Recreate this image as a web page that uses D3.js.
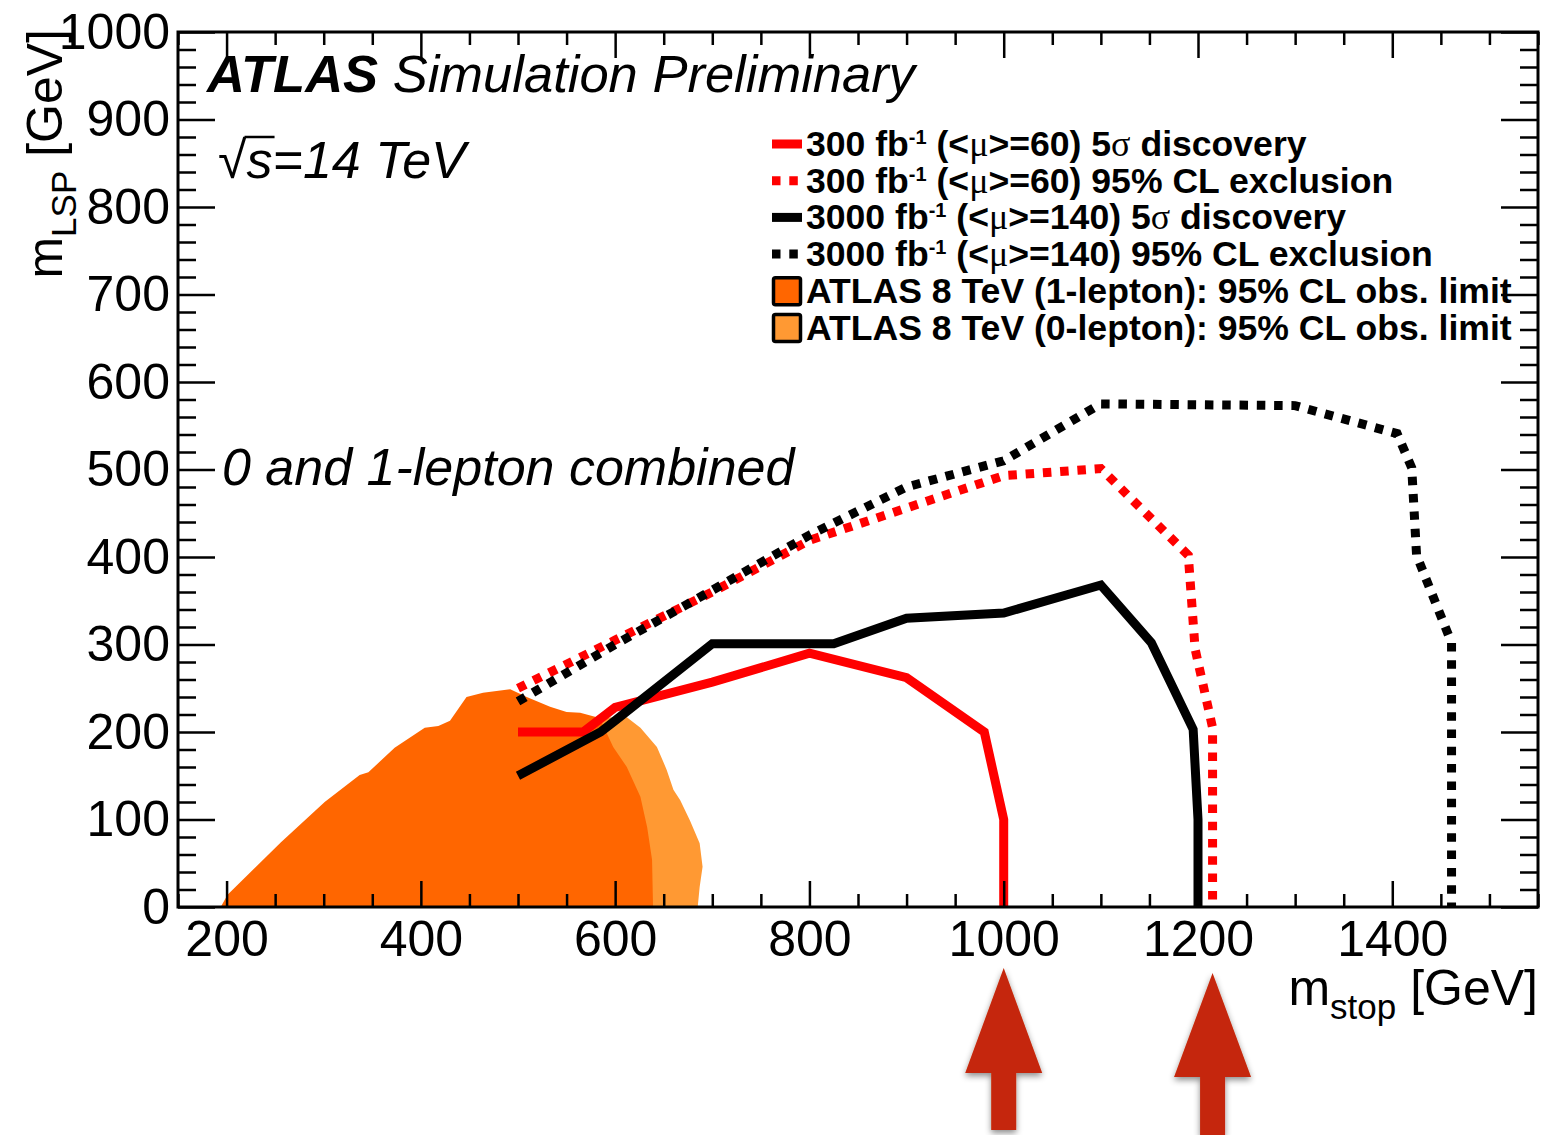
<!DOCTYPE html>
<html>
<head>
<meta charset="utf-8">
<script src="https://cdn.jsdelivr.net/npm/d3@7"></script>
<style>
  html, body { margin: 0; padding: 0; background: #fff; }
  svg { display: block; }
  text { font-family: "Liberation Sans", Arial, Helvetica, sans-serif; }
</style>
</head>
<body>
<svg id="chart" width="1545" height="1135"></svg>
<script>
// ---------- data ----------
const xMajorTicks = [200, 400, 600, 800, 1000, 1200, 1400];
const yMajorTicks = [0, 100, 200, 300, 400, 500, 600, 700, 800, 900, 1000];

// 14 TeV projections: [m_stop, m_LSP] in GeV
const disc300 = [[500,200],[567,200],[600,228],[700,257],[800,290],[900,262],[980,200],[1000,100],[1000,0]];
const excl300 = [[500,250],[600,305],[700,360],[800,419],[900,456],[1000,493],[1100,501],[1190,402],[1197,295],[1215,205],[1215,0]];
const disc3000 = [[500,150],[585,200],[600,213],[700,301],[825,301],[900,330],[1000,336],[1100,368],[1152,302],[1195,203],[1200,100],[1200,0]];
const excl3000 = [[500,235],[600,300],[700,362],[800,425],[900,480],[1000,510],[1100,575],[1200,574],[1300,573],[1405,541],[1420,502],[1425,402],[1461,302],[1461,0]];

// 8 TeV observed limits (contours)
const obs1lep = [[194,0],[201,14],[256,74],[301,120],[337,151],[346,154],[373,182],[404,205],[418,207],[430,213],[447,240],[464,245],[492,249],[509,240],[533,229],[550,223],[564,222],[584,216],[598,183],[612,160],[626,126],[633,91],[638,54],[639,0]];
const obs0lep = [[420,0],[480,150],[560,200],[584,216],[600,217],[612,217],[626,205],[643,183],[653,157],[660,134],[667,122],[677,99],[687,73],[690,46],[687,23],[685,0]];

const arrowMarks = [1000, 1215];

const legendEntries = [
  { kind: "line", color: "#ff0000", dashed: false, parts: [["300 fb"],["-1","sup"],[" (<"],["μ","greek"],[">=60) 5"],["σ","greek"],[" discovery"]] },
  { kind: "line", color: "#ff0000", dashed: true,  parts: [["300 fb"],["-1","sup"],[" (<"],["μ","greek"],[">=60) 95% CL exclusion"]] },
  { kind: "line", color: "#000000", dashed: false, parts: [["3000 fb"],["-1","sup"],[" (<"],["μ","greek"],[">=140) 5"],["σ","greek"],[" discovery"]] },
  { kind: "line", color: "#000000", dashed: true,  parts: [["3000 fb"],["-1","sup"],[" (<"],["μ","greek"],[">=140) 95% CL exclusion"]] },
  { kind: "box",  color: "#ff6600", parts: [["ATLAS 8 TeV (1-lepton): 95% CL obs. limit"]] },
  { kind: "box",  color: "#ff9933", parts: [["ATLAS 8 TeV (0-lepton): 95% CL obs. limit"]] }
];

// ---------- layout ----------
const svg = d3.select("#chart");
const pLeft = 178, pRight = 1538, pTop = 32, pBottom = 907;
const x = d3.scaleLinear().domain([150, 1550]).range([pLeft, pRight]);
const y = d3.scaleLinear().domain([0, 1000]).range([pBottom, pTop]);

const xMinor = d3.range(150, 1551, 50).filter(v => !xMajorTicks.includes(v));
const yMinor = d3.range(0, 1001, 20).filter(v => !yMajorTicks.includes(v));

const defs = svg.append("defs");
defs.append("clipPath").attr("id", "plotclip")
  .append("rect").attr("x", pLeft).attr("y", pTop).attr("width", pRight - pLeft).attr("height", pBottom - pTop);
const shadow = defs.append("filter").attr("id", "arrowshadow")
  .attr("x", "-30%").attr("y", "-30%").attr("width", "160%").attr("height", "160%");
shadow.append("feDropShadow").attr("dx", 0).attr("dy", 3).attr("stdDeviation", 3)
  .attr("flood-color", "#000").attr("flood-opacity", 0.45);

const plot = svg.append("g").attr("clip-path", "url(#plotclip)");

// filled 8 TeV regions
const area = d3.line().x(d => x(d[0])).y(d => y(d[1]));
plot.append("path").attr("d", area(obs0lep) + "Z").attr("fill", "#ff9933");
plot.append("path").attr("d", area(obs1lep) + "Z").attr("fill", "#ff6600");

// contour lines
const line = d3.line().x(d => x(d[0])).y(d => y(d[1]));
const DASH = "8.5,8.8", LW = 9;
const curves = [
  { data: excl300, color: "#ff0000", dashed: true },
  { data: disc300, color: "#ff0000", dashed: false },
  { data: excl3000, color: "#000000", dashed: true },
  { data: disc3000, color: "#000000", dashed: false }
];
curves.forEach(c => {
  plot.append("path").attr("d", line(c.data))
    .attr("fill", "none").attr("stroke", c.color).attr("stroke-width", LW)
    .attr("stroke-linejoin", "miter").attr("stroke-linecap", "butt")
    .attr("stroke-dasharray", c.dashed ? DASH : null);
});

// ---------- legend ----------
const legX = 772, legTextX = 806, legY0 = 144, legDy = 36.7;
const lg = svg.append("g");
legendEntries.forEach((e, i) => {
  const cy = legY0 + i * legDy;
  if (e.kind === "line") {
    lg.append("line").attr("x1", legX).attr("x2", legX + 30).attr("y1", cy).attr("y2", cy)
      .attr("stroke", e.color).attr("stroke-width", LW)
      .attr("stroke-dasharray", e.dashed ? DASH : null);
  } else {
    lg.append("rect").attr("x", legX + 1.5).attr("y", cy - 13).attr("width", 27).attr("height", 27)
      .attr("rx", 2).attr("fill", e.color).attr("stroke", "#000").attr("stroke-width", 3.5);
  }
  const t = lg.append("text").attr("x", legTextX).attr("y", cy + 12)
    .attr("font-size", 35.6).attr("font-weight", "bold").attr("fill", "#000");
  let shift = 0;
  e.parts.forEach(p => {
    const ts = t.append("tspan").text(p[0]);
    if (p[1] === "sup") {
      ts.attr("font-size", 20).attr("dy", -12); shift = 12;
    } else {
      if (shift) { ts.attr("dy", shift); shift = 0; }
      if (p[1] === "greek") ts.attr("font-family", "'Liberation Serif', 'DejaVu Serif', serif").attr("font-weight", "normal").attr("font-size", 36);
    }
  });
});

// ---------- axes ----------
const axisG = svg.append("g");
function tickAxis(gen, transform) {
  const g = axisG.append("g").attr("transform", transform).call(gen);
  g.select(".domain").remove();
  g.selectAll(".tick line").attr("stroke", "#000").attr("stroke-width", 2.5);
  return g;
}
const XMAJ = 26, XMIN = 13, YMAJ = 37, YMIN = 18;
// bottom
const gb = tickAxis(d3.axisBottom(x).tickValues(xMajorTicks).tickSize(-XMAJ).tickPadding(13).tickFormat(d3.format("d")), `translate(0,${pBottom})`);
gb.selectAll(".tick text").attr("font-size", 50).attr("fill", "#000").attr("font-family", "'Liberation Sans', Arial, sans-serif");
tickAxis(d3.axisBottom(x).tickValues(xMinor).tickSize(-XMIN).tickFormat(""), `translate(0,${pBottom})`);
// top
tickAxis(d3.axisTop(x).tickValues(xMajorTicks).tickSize(-XMAJ).tickFormat(""), `translate(0,${pTop})`);
tickAxis(d3.axisTop(x).tickValues(xMinor).tickSize(-XMIN).tickFormat(""), `translate(0,${pTop})`);
// left
const gl = tickAxis(d3.axisLeft(y).tickValues(yMajorTicks).tickSize(-YMAJ).tickPadding(8).tickFormat(d3.format("d")), `translate(${pLeft},0)`);
gl.selectAll(".tick text").attr("font-size", 50).attr("fill", "#000").attr("font-family", "'Liberation Sans', Arial, sans-serif");
tickAxis(d3.axisLeft(y).tickValues(yMinor).tickSize(-YMIN).tickFormat(""), `translate(${pLeft},0)`);
// right
tickAxis(d3.axisRight(y).tickValues(yMajorTicks).tickSize(-YMAJ).tickFormat(""), `translate(${pRight},0)`);
tickAxis(d3.axisRight(y).tickValues(yMinor).tickSize(-YMIN).tickFormat(""), `translate(${pRight},0)`);

// frame
svg.append("rect").attr("x", pLeft).attr("y", pTop).attr("width", pRight - pLeft).attr("height", pBottom - pTop)
  .attr("fill", "none").attr("stroke", "#000").attr("stroke-width", 3);

// axis titles
const xt = svg.append("text").attr("x", pRight).attr("y", 1005).attr("text-anchor", "end").attr("font-size", 50);
xt.append("tspan").text("m");
xt.append("tspan").text("stop").attr("font-size", 35).attr("dy", 14);
xt.append("tspan").text(" [GeV]").attr("dy", -14);

const yt = svg.append("text").attr("transform", `translate(62,${pTop - 3}) rotate(-90)`)
  .attr("text-anchor", "end").attr("font-size", 50);
yt.append("tspan").text("m");
yt.append("tspan").text("LSP").attr("font-size", 35).attr("dy", 14);
yt.append("tspan").text(" [GeV]").attr("dy", -14);

// labels inside the frame
const atl = svg.append("text").attr("x", 207).attr("y", 92).attr("font-size", 52.5).attr("font-style", "italic");
atl.append("tspan").text("ATLAS").attr("font-weight", "bold");
atl.append("tspan").text(" Simulation Preliminary");

const rs = svg.append("text").attr("x", 218).attr("y", 178).attr("font-size", 52).attr("font-style", "italic");
rs.append("tspan").text("√").attr("font-style", "normal");
rs.append("tspan").text("s=14 TeV");
{
  const node = rs.node();
  const b = node.getExtentOfChar(1);
  svg.append("line").attr("x1", b.x - 2).attr("x2", b.x + b.width + 2)
    .attr("y1", b.y + 6).attr("y2", b.y + 6).attr("stroke", "#000").attr("stroke-width", 2.5);
}

svg.append("text").attr("x", 222).attr("y", 485).attr("font-size", 52).attr("font-style", "italic")
  .text("0 and 1-lepton combined");

// ---------- arrows below the axis ----------
const arrowSpec = [
  { tip: 968, base: 1073, end: 1130 },
  { tip: 973, base: 1077, end: 1135 }
];
arrowMarks.forEach((v, i) => {
  const cx = x(v), s = arrowSpec[i];
  const hw = 38.5, sw = 12.5;
  const p = d3.path();
  p.moveTo(cx, s.tip);
  p.lineTo(cx + hw, s.base);
  p.lineTo(cx + sw, s.base);
  p.lineTo(cx + sw, s.end);
  p.lineTo(cx - sw, s.end);
  p.lineTo(cx - sw, s.base);
  p.lineTo(cx - hw, s.base);
  p.closePath();
  svg.append("path").attr("d", p.toString()).attr("fill", "#c52808").attr("filter", "url(#arrowshadow)");
});
</script>
</body>
</html>
